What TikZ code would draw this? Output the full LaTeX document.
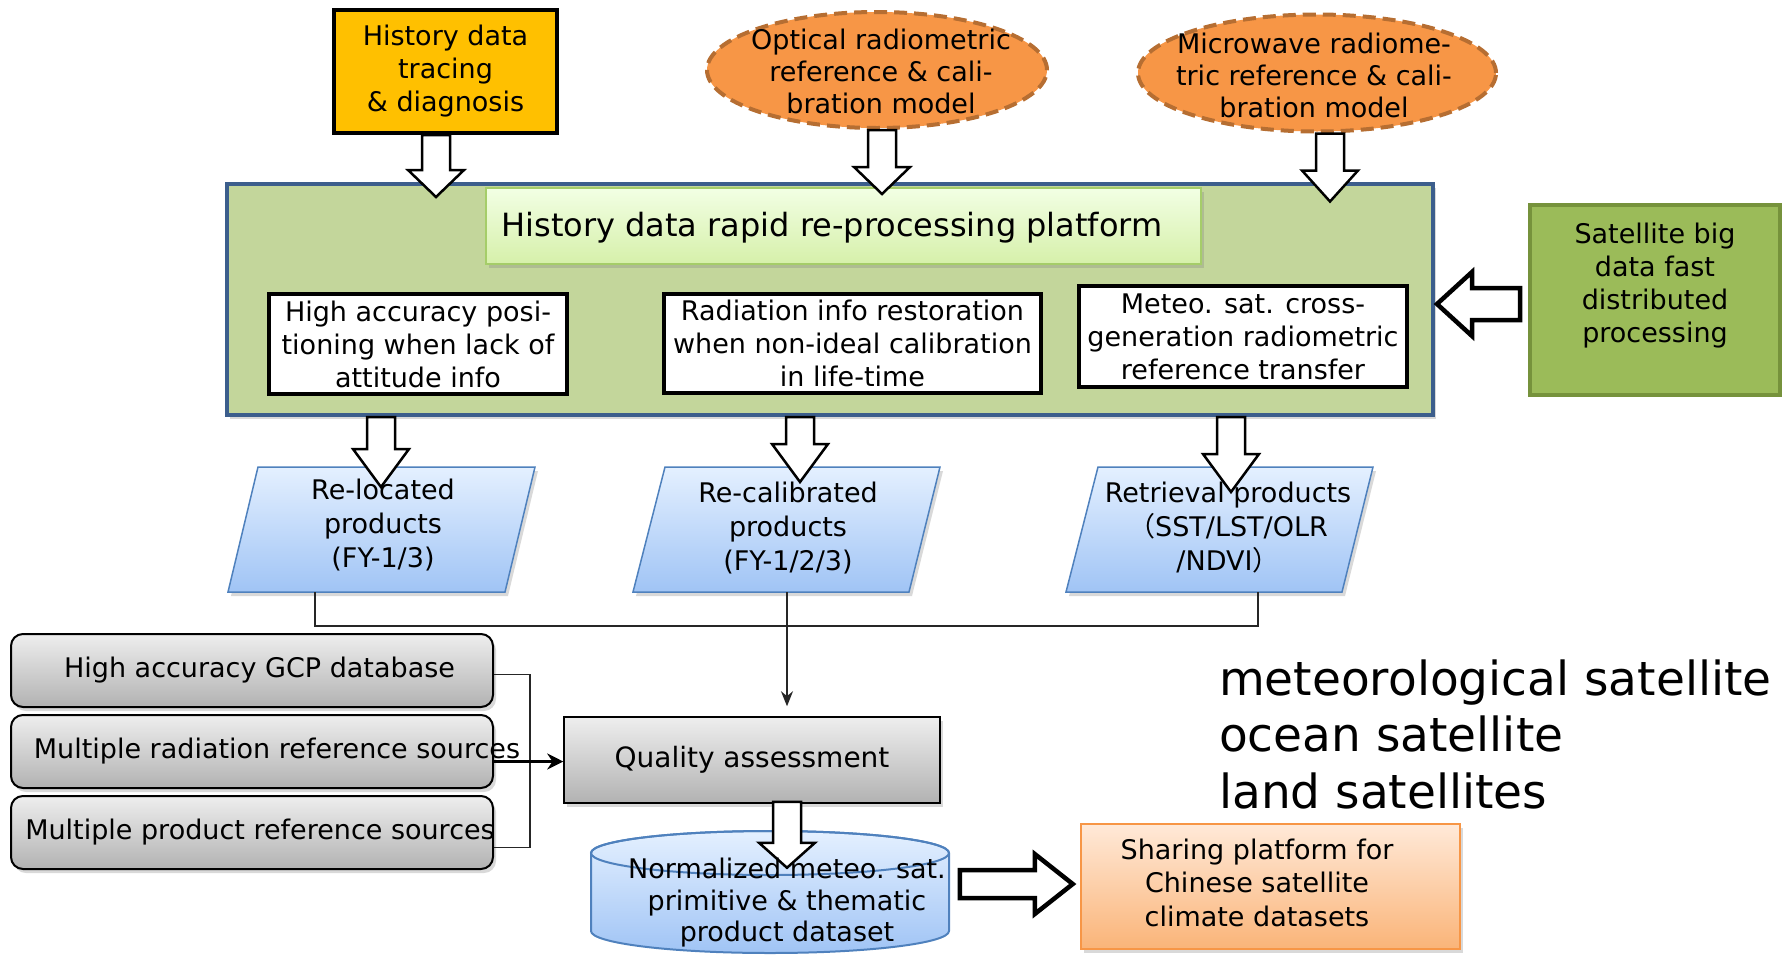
\documentclass[tikz,border=0pt]{standalone}
\usepackage{fontspec}
\setmainfont{DejaVu Sans}
\newfontfamily\cjk{Noto Sans CJK SC}
\usetikzlibrary{shapes.geometric,shadows,calc,arrows.meta}
\definecolor{histY}{RGB}{255,192,0}
\definecolor{ellO}{RGB}{247,150,70}
\definecolor{ellB}{RGB}{182,110,50}
\definecolor{platG}{RGB}{195,214,155}
\definecolor{platB}{RGB}{60,94,140}
\definecolor{satG}{RGB}{155,187,89}
\definecolor{satB}{RGB}{118,146,60}
\definecolor{titT}{RGB}{242,255,228}
\definecolor{titB}{RGB}{214,240,170}
\definecolor{titD}{RGB}{165,205,105}
\definecolor{prodT}{RGB}{228,240,255}
\definecolor{prodB}{RGB}{160,196,245}
\definecolor{prodD}{RGB}{79,129,189}
\definecolor{grayT}{RGB}{238,238,238}
\definecolor{grayB}{RGB}{178,178,178}
\definecolor{shareT}{RGB}{255,233,216}
\definecolor{shareB}{RGB}{250,180,120}
\definecolor{shareD}{RGB}{247,150,70}
\newcommand\blkdown[4]{%
  \draw[#1] let \p1=(#2), \p2=(#3) in
  (\x1-14pt,\y1) -- (\x1+14pt,\y1) -- (\x1+14pt,\y2+#4) -- (\x1+28pt,\y2+#4)
  -- (\x1,\y2) -- (\x1-28pt,\y2+#4) -- (\x1-14pt,\y2+#4) -- cycle;}
\newcommand\blkleft[2]{%
  \draw[blkthick] let \p1=(#1), \p2=(#2) in
  (\x1,\y1+16pt) -- (\x2+35pt,\y1+16pt) -- (\x2+35pt,\y1+32pt) -- (\x2,\y1)
  -- (\x2+35pt,\y1-32pt) -- (\x2+35pt,\y1-16pt) -- (\x1,\y1-16pt) -- cycle;}
\newcommand\blkright[2]{%
  \draw[blkthick] let \p1=(#1), \p2=(#2) in
  (\x1,\y1+14pt) -- (\x2-38pt,\y1+14pt) -- (\x2-38pt,\y1+30pt) -- (\x2,\y1)
  -- (\x2-38pt,\y1-30pt) -- (\x2-38pt,\y1-14pt) -- (\x1,\y1-14pt) -- cycle;}
\begin{document}
\begin{tikzpicture}[x=1pt,y=-1pt,
  every node/.style={inner sep=0pt, align=center},
  tx/.style={font=\fontsize{27}{33}\selectfont},
  shd/.style={drop shadow={shadow xshift=3pt, shadow yshift=-4pt, opacity=0.3}},
  blkarrow/.style={draw=black, fill=white, line width=2.5pt},
  blkthick/.style={draw=black, fill=white, line width=4.5pt},
  wbox/.style={draw=black, line width=4pt, fill=white, tx},
  gbox/.style={draw=black, line width=2pt, rounded corners=12pt, top color=grayT, bottom color=grayB, minimum width=482pt, minimum height=73pt, shd},
  prod/.style={draw=prodD, line width=1.5pt, top color=prodT, bottom color=prodB, shd},
  oval/.style={ellipse, draw=ellB, line width=4pt, dash pattern=on 13pt off 7pt, fill=ellO},
  thinln/.style={line width=1.5pt, draw=black!85}
]
\useasboundingbox (0,0) rectangle (1789,956);

% top inputs
\node[draw=black, line width=4pt, fill=histY, minimum width=223pt, minimum height=123pt, tx] (hist) at (445.5,71.5) {History data\\tracing\\\& diagnosis};
\node[oval, minimum width=340pt, minimum height=116pt] (opt) at (877,70) {};
\node[tx, font=\fontsize{27}{32}\selectfont] (optt) at (881,71) {Optical radiometric\\reference \& cali-\\bration model};
\node[oval, minimum width=358pt, minimum height=117pt] (mw) at (1317,73) {};
\node[tx, font=\fontsize{27}{32}\selectfont] (mwt) at (1314,75) {Microwave radiome-\\tric reference \& cali-\\bration model};

% platform
\node[draw=platB, line width=4pt, fill=platG, minimum width=1206pt, minimum height=231pt, shd] (plat) at (830,299.5) {};
\node[draw=titD, line width=2pt, top color=titT, bottom color=titB, minimum width=715pt, minimum height=76pt, shd] (title) at (843.5,226) {};
\node[font=\fontsize{32}{38}\selectfont] (titlet) at (832,228) {History data rapid re-processing platform};
\node[wbox, minimum width=298pt, minimum height=100pt] (b1) at (418,344) {High accuracy posi-\\tioning when lack of\\attitude info};
\node[wbox, minimum width=377pt, minimum height=99pt] (b2) at (852.5,343.5) {Radiation info restoration\\when non-ideal calibration\\in life-time};
\node[wbox, minimum width=328pt, minimum height=101pt] (b3) at (1243,336.5) {Meteo. sat. cross-\\generation radiometric\\reference transfer};

% satellite box
\node[draw=satB, line width=4pt, fill=satG, minimum width=250pt, minimum height=190pt] (sat) at (1655,300) {};
\node[tx] (satt) at (1655,286) {Satellite big\\data fast\\distributed\\processing};

% arrows into platform
\blkdown{blkarrow}{$(hist.south)+(-9.5,0)$}{$(hist.south)+(-9.5,62)$}{27pt}
\blkdown{blkarrow}{$(opt.south)+(5,0)$}{$(opt.south)+(5,64)$}{27pt}
\blkdown{blkarrow}{$(mw.south)+(13,0)$}{$(mw.south)+(13,68)$}{31pt}
\blkleft{$(sat.west)+(-8,4)$}{$(plat.east)+(2,4)$}

% products
\path[prod] (258,467) -- (535,467) -- (505,592) -- (228,592) -- cycle;
\path[prod] (665,467) -- (940,467) -- (909,592) -- (633,592) -- cycle;
\path[prod] (1098,467) -- (1373,467) -- (1342,592) -- (1066,592) -- cycle;

\blkdown{blkarrow}{$(plat.south)+(-449,0)$}{$(plat.south)+(-449,70)$}{38pt}
\blkdown{blkarrow}{$(plat.south)+(-30,0)$}{$(plat.south)+(-30,65)$}{38pt}
\blkdown{blkarrow}{$(plat.south)+(401,0)$}{$(plat.south)+(401,75)$}{38pt}

\node[tx, font=\fontsize{27}{34}\selectfont] (t1) at (383,525) {Re-located\\products\\(FY-1/3)};
\node[tx, font=\fontsize{27}{34}\selectfont] (t2) at (788,528) {Re-calibrated\\products\\(FY-1/2/3)};
\node[tx, font=\fontsize{27}{34}\selectfont] (t3) at (1228,528) {Retrieval products\\{\cjk （}SST/LST/OLR\\/NDVI{\cjk ）}};

% quality assessment
\node[draw=black, line width=1.5pt, top color=grayT, bottom color=grayB, minimum width=376pt, minimum height=86pt, shd, font=\fontsize{28}{33}\selectfont] (q) at (752,760) {Quality assessment};

\coordinate (j1) at (315,592);
\coordinate (j2) at (787,592);
\coordinate (j3) at (1258,592);
\draw[thinln] (j1) |- ($(j3)+(0,34)$) -- (j3);
\draw[thinln, -{Stealth[length=15pt,width=12pt]}] (j2) -- ($(j2 |- q.north)+(0,-10)$);

% reference sources
\node[gbox] (la) at (252,670.5) {};
\node[gbox] (lb) at (252,751.5) {};
\node[gbox] (lc) at (252,832.5) {};
\node[tx] (lat) at (259.5,670.5) {High accuracy GCP database};
\node[tx] (lbt) at (277,751.5) {Multiple radiation reference sources};
\node[tx] (lct) at (260,832.5) {Multiple product reference sources};
\draw[thinln] ($(la.east)+(0,4)$) -- ++(36,0) |- ($(lc.east)+(0,15)$);
\coordinate (lbo) at ($(lb.east)+(0,10)$);
\draw[line width=3pt, -{Stealth[length=16pt,width=16pt]}] (lbo) -- (lbo -| q.west);

% dataset cylinder
\path[draw=prodD, line width=2pt, top color=prodT, bottom color=prodB]
  (591,853) -- (591,931) arc[start angle=180, end angle=0, x radius=179, y radius=22]
  -- (949,853) arc[start angle=0, end angle=-180, x radius=179, y radius=22] -- cycle;
\draw[draw=prodD, line width=2pt] (770,853) ellipse [x radius=179, y radius=22];
\blkdown{blkarrow}{$(q.south)+(35,-2)$}{$(q.south)+(35,64)$}{25pt}
\node[tx, font=\fontsize{27}{31.5}\selectfont] (cyl) at (787,903) {Normalized meteo. sat.\\primitive \& thematic\\product dataset};

% sharing platform
\node[draw=shareD, line width=2.5pt, top color=shareT, bottom color=shareB, minimum width=379pt, minimum height=125pt, shd] (share) at (1270.5,886.5) {};
\node[tx, font=\fontsize{27}{33.5}\selectfont] (sharet) at (1257,882.5) {Sharing platform for\\Chinese satellite\\climate datasets};
\blkright{$(share.west)+(-120,-2.5)$}{$(share.west)+(-7,-2.5)$}

% satellite types
\node[anchor=base west, font=\fontsize{47}{57}\selectfont] (m1) at (1219,695) {meteorological satellite};
\node[anchor=base west, font=\fontsize{47}{57}\selectfont] (m2) at (1219,751) {ocean satellite};
\node[anchor=base west, font=\fontsize{47}{57}\selectfont] (m3) at (1219,808) {land satellites};
\end{tikzpicture}
\end{document}
